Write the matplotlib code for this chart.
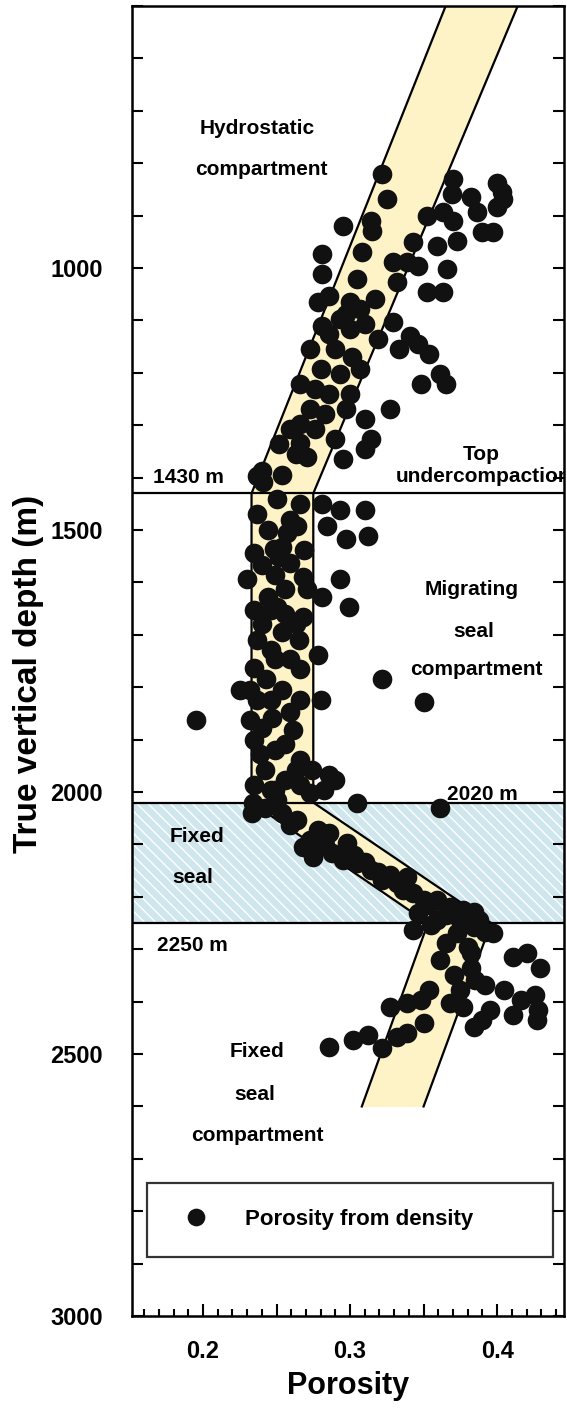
import matplotlib
matplotlib.use("Agg")
import matplotlib.pyplot as plt
from matplotlib.ticker import MultipleLocator, FuncFormatter

plt.rcParams['font.family'] = ['Liberation Sans', 'DejaVu Sans']
plt.rcParams['font.weight'] = 'bold'
plt.rcParams['hatch.linewidth'] = 1.0

# porosity from density log
phi = [0.322, 0.325, 0.295, 0.314, 0.315, 0.281, 0.281, 0.308, 0.305, 0.286,
       0.370, 0.369, 0.382, 0.400, 0.403, 0.404, 0.400, 0.386, 0.390, 0.397,
       0.352, 0.363, 0.370, 0.359, 0.373, 0.343, 0.329, 0.339, 0.346, 0.366,
       0.332, 0.352, 0.363, 0.278, 0.300, 0.281, 0.293, 0.329, 0.341,
       0.297, 0.307, 0.317, 0.286, 0.300, 0.310, 0.319, 0.273, 0.290, 0.301,
       0.280, 0.293, 0.307, 0.266, 0.276, 0.286, 0.300, 0.273, 0.283, 0.297,
       0.266, 0.276, 0.290, 0.259, 0.252, 0.263,
       0.333, 0.346, 0.354, 0.361, 0.365, 0.348, 0.327, 0.310, 0.314,
       0.310, 0.295, 0.271, 0.266, 0.240, 0.237, 0.241, 0.254, 0.250, 0.266,
       0.281, 0.293, 0.310, 0.284, 0.259, 0.257, 0.264, 0.297, 0.312, 0.235,
       0.248, 0.252, 0.259, 0.230, 0.268, 0.293, 0.244, 0.250, 0.271, 0.281,
       0.299, 0.268,
       0.240, 0.254, 0.265, 0.246, 0.259, 0.235, 0.243, 0.254, 0.266, 0.237,
       0.225, 0.195, 0.247, 0.261, 0.235, 0.249, 0.266, 0.274, 0.242, 0.256,
       0.286, 0.278, 0.280, 0.322, 0.350, 0.232,
       0.237, 0.244, 0.240, 0.249, 0.256, 0.235, 0.256, 0.263, 0.237, 0.249,
       0.266, 0.232, 0.246, 0.259, 0.240, 0.256, 0.239, 0.263, 0.235, 0.249,
       0.266, 0.246, 0.254, 0.269,
       0.234, 0.233, 0.250, 0.246, 0.273, 0.282, 0.290, 0.305, 0.361, 0.254,
       0.264, 0.278, 0.286, 0.298, 0.268, 0.275, 0.288, 0.295, 0.305, 0.314,
       0.322, 0.332, 0.339, 0.343, 0.350, 0.359, 0.368, 0.377, 0.384, 0.346,
       0.343, 0.359, 0.373, 0.384, 0.397, 0.380, 0.411, 0.420,
       0.242, 0.259, 0.273, 0.283, 0.303, 0.310, 0.319, 0.327, 0.336, 0.354,
       0.365, 0.375, 0.388, 0.392, 0.355,
       0.361, 0.371, 0.354, 0.382, 0.392, 0.405, 0.429, 0.426, 0.348,
       0.365, 0.382, 0.375, 0.385, 0.416,
       0.286, 0.302, 0.312, 0.322, 0.332, 0.339, 0.350, 0.327, 0.339, 0.368,
       0.377, 0.384, 0.390, 0.395, 0.411, 0.427, 0.428]
depth = [820, 868, 920, 910, 929, 973, 1011, 969, 1021, 1054,
         830, 859, 865, 837, 855, 868, 883, 893, 931, 931,
         901, 893, 910, 958, 948, 950, 989, 989, 996, 1002,
         1027, 1046, 1046, 1065, 1065, 1111, 1097, 1103, 1130,
         1088, 1078, 1059, 1126, 1117, 1107, 1136, 1155, 1155, 1170,
         1193, 1203, 1193, 1222, 1231, 1241, 1241, 1269, 1279, 1269,
         1298, 1308, 1327, 1308, 1336, 1355,
         1155, 1145, 1164, 1203, 1222, 1222, 1269, 1289, 1327,
         1346, 1365, 1361, 1333, 1388, 1397, 1409, 1394, 1441, 1451,
         1451, 1461, 1461, 1493, 1480, 1505, 1493, 1518, 1512, 1543,
         1537, 1552, 1562, 1594, 1589, 1594, 1627, 1646, 1613, 1627,
         1646, 1665,
         1680, 1694, 1709, 1728, 1747, 1763, 1785, 1805, 1824, 1824,
         1805, 1862, 1858, 1881, 1900, 1919, 1938, 1957, 1957, 1977,
         1967, 1738, 1824, 1785, 1829, 1862,
         1470, 1499, 1566, 1585, 1613, 1652, 1661, 1680, 1709, 1747,
         1766, 1805, 1824, 1847, 1877, 1909, 1928, 1957, 1986, 1996,
         1986, 1652, 1533, 1539,
         2020, 2040, 2015, 1996, 2001, 1996, 1977, 2020, 2030, 2040,
         2053, 2072, 2078, 2097, 2104, 2124, 2116, 2129, 2135, 2149,
         2168, 2173, 2162, 2192, 2206, 2206, 2219, 2225, 2229, 2231,
         2263, 2244, 2269, 2257, 2269, 2296, 2315, 2307,
         2030, 2063, 2092, 2101, 2120, 2133, 2152, 2158, 2187, 2215,
         2235, 2244, 2244, 2267, 2254,
         2320, 2349, 2378, 2336, 2368, 2378, 2336, 2387, 2397,
         2288, 2307, 2378, 2359, 2397,
         2487, 2473, 2464, 2489, 2468, 2460, 2441, 2410, 2403, 2403,
         2410, 2449, 2435, 2416, 2426, 2435, 2416]

# compaction trend envelope (edges of the shaded band)
trend_z = [500, 1430, 2020, 2250, 2600]
trend_left = [0.365, 0.233, 0.233, 0.353, 0.308]
trend_right = [0.414, 0.275, 0.275, 0.396, 0.350]

# compartment boundaries (m)
top_undercompaction = 1430
seal_top = 2020
seal_base = 2250

fig = plt.figure(figsize=(5.67, 14.08), dpi=100)
ax = fig.add_axes([0.2328, 0.0653, 0.7619, 0.9304])

ax.axhspan(seal_top, seal_base, facecolor='#cfe6ec', edgecolor='white',
           hatch='\\\\\\', linewidth=0, zorder=1)

ax.fill_betweenx(trend_z, trend_left, trend_right, color='#fdf3c6',
                 linewidth=0, zorder=2)
ax.plot(trend_left, trend_z, color='black', lw=1.6, zorder=3)
ax.plot(trend_right, trend_z, color='black', lw=1.6, zorder=3)

for z in (top_undercompaction, seal_top, seal_base):
    ax.axhline(z, color='black', lw=1.6, zorder=4)

ax.scatter(phi, depth, s=200, color='#111111', marker='o', linewidths=0,
           zorder=5, label='Porosity from density')

txt = dict(fontsize=15, fontweight='bold', ha='center', va='center', zorder=6,
           clip_on=True)
ax.text(0.237, 734, 'Hydrostatic', **txt)
ax.text(0.240, 811, 'compartment', **txt)
ax.text(0.389, 1355, 'Top', **txt)
ax.text(0.391, 1397, 'undercompaction', **txt)
ax.text(0.190, 1399, f'{top_undercompaction} m', **txt)
ax.text(0.383, 1613, 'Migrating', **txt)
ax.text(0.384, 1694, 'seal', **txt)
ax.text(0.386, 1766, 'compartment', **txt)
ax.text(0.390, 2005, f'{seal_top} m', **txt)
ax.text(0.196, 2085, 'Fixed', **txt)
ax.text(0.193, 2164, 'seal', **txt)
ax.text(0.193, 2292, f'{seal_base} m', **txt)
ax.text(0.237, 2496, 'Fixed', **txt)
ax.text(0.235, 2578, 'seal', **txt)
ax.text(0.237, 2655, 'compartment', **txt)

ax.set_xlim(0.1517, 0.4455)
ax.set_ylim(3000, 500)

ax.xaxis.set_major_locator(MultipleLocator(0.05))
ax.xaxis.set_minor_locator(MultipleLocator(0.01))
ax.xaxis.set_major_formatter(FuncFormatter(
    lambda v, p: f'{v:.1f}' if abs(v * 10 - round(v * 10)) < 1e-6 else ''))
ax.yaxis.set_major_locator(MultipleLocator(500))
ax.yaxis.set_minor_locator(MultipleLocator(100))
ax.yaxis.set_major_formatter(FuncFormatter(
    lambda v, p: f'{v:.0f}' if v >= 1000 else ''))

ax.tick_params(axis='x', which='both', direction='in', top=False,
               labelsize=17, pad=17, width=1.5)
ax.tick_params(axis='x', which='major', length=9)
ax.tick_params(axis='x', which='minor', length=5)
ax.tick_params(axis='y', which='both', direction='in', left=True, right=True,
               labelsize=17, pad=21, width=1.5, length=8)
for lab in ax.get_xticklabels() + ax.get_yticklabels():
    lab.set_fontweight('bold')
for sp in ax.spines.values():
    sp.set_linewidth(1.8)

ax.set_xlabel('Porosity', fontsize=22, fontweight='bold', labelpad=6)
ax.set_ylabel('True vertical depth (m)', fontsize=24, fontweight='bold')
ax.yaxis.set_label_coords(-0.204, 0.49)

leg = ax.legend(loc='center', bbox_to_anchor=(0.035, 0.046, 0.94, 0.055),
                mode='expand', borderaxespad=0, fontsize=16, frameon=True,
                fancybox=False, edgecolor='black', borderpad=1.2,
                handletextpad=1.2, markerscale=0.9, scatteryoffsets=[0.5])
leg.get_frame().set_linewidth(1.6)
for t in leg.get_texts():
    t.set_fontweight('bold')

fig.savefig('out.png', dpi=100)
